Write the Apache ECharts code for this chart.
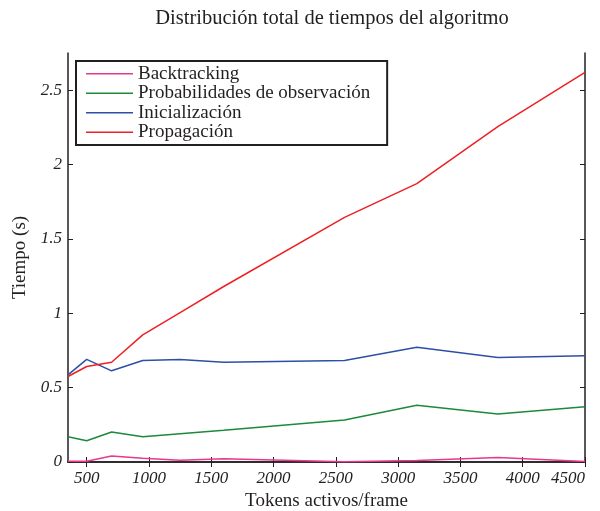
<!DOCTYPE html>
<html>
<head>
<meta charset="utf-8">
<script src="https://cdn.jsdelivr.net/npm/echarts@6/dist/echarts.min.js"></script>
<style>
  html, body { margin: 0; padding: 0; background: #fff; }
  #chart { width: 600px; height: 511px; }
</style>
</head>
<body>
<div id="chart"></div>
<script>
// Active tokens per frame
const tokens = [350, 500, 700, 950, 1250, 1600, 2570, 3150, 3800, 4500];

// Time (s) of each stage
const backtracking   = [0.005, 0.005, 0.04, 0.025, 0.012, 0.022, 0.002, 0.01, 0.03, 0.003];
const probabilidades = [0.17, 0.143, 0.202, 0.17, 0.19, 0.213, 0.283, 0.382, 0.323, 0.372];
const inicializacion = [0.586, 0.69, 0.613, 0.682, 0.69, 0.671, 0.682, 0.772, 0.702, 0.714];
const propagacion    = [0.575, 0.642, 0.671, 0.855, 1.005, 1.18, 1.645, 1.872, 2.255, 2.62];

const seriesNames = ['Backtracking', 'Probabilidades de observación', 'Inicialización', 'Propagación'];
const seriesColors = ['#e8388f', '#1b8a3c', '#2d4fa6', '#ee2024'];
const seriesValues = [backtracking, probabilidades, inicializacion, propagacion];

const xTicks = [500, 1000, 1500, 2000, 2500, 3000, 3500, 4000, 4500];
const yTicks = [0, 0.5, 1, 1.5, 2, 2.5];

const serif = '"Liberation Serif", "DejaVu Serif", serif';
const ink = '#231f20';

const pairs = vals => tokens.map((t, i) => [t, vals[i]]);

const xBase = {
  type: 'value', min: 350, max: 4500,
  axisLine: { show: true, lineStyle: { color: ink, width: 1.5 } },
  splitLine: { show: false },
  axisTick: { inside: true, length: 5, customValues: xTicks, lineStyle: { color: ink } }
};
const yBase = {
  type: 'value', min: 0, max: 2.75,
  axisLine: { show: true, lineStyle: { color: ink, width: 1.5 } },
  splitLine: { show: false },
  axisTick: { inside: true, length: 5, customValues: yTicks, lineStyle: { color: ink } }
};

const chart = echarts.init(document.getElementById('chart'), null, { renderer: 'canvas' });
chart.setOption({
  animation: false,
  backgroundColor: '#fff',
  title: {
    text: 'Distribución total de tiempos del algoritmo',
    left: 327, top: 3, textAlign: 'center',
    textStyle: { fontFamily: serif, fontSize: 20.5, fontWeight: 'normal', color: ink }
  },
  legend: {
    orient: 'vertical', left: 76, top: 61,
    padding: [3, 17, 3, 10],
    itemGap: 0,
    itemWidth: 47, itemHeight: 10,
    borderColor: ink, borderWidth: 2, backgroundColor: '#fff',
    textStyle: { fontFamily: serif, fontSize: 19, lineHeight: 19.5, color: ink },
    data: seriesNames.map(n => ({
      name: n,
      icon: 'path://M0,0 L47,0 L47,1.5 L0,1.5 Z'
    }))
  },
  grid: { left: 68, right: 15, top: 53, bottom: 49, containLabel: false, outerBoundsMode: 'none' },
  xAxis: [
    Object.assign({}, xBase, {
      position: 'bottom',
      name: 'Tokens activos/frame', nameLocation: 'middle', nameGap: 29,
      nameTextStyle: { fontFamily: serif, fontSize: 19, color: ink },
      axisLabel: {
        customValues: xTicks, margin: 8, formatter: v => String(v),
        alignMaxLabel: 'right',
        fontFamily: serif, fontStyle: 'italic', fontSize: 17, color: ink
      }
    }),
    Object.assign({}, xBase, { position: 'top', axisLabel: { show: false } })
  ],
  yAxis: [
    Object.assign({}, yBase, {
      position: 'left',
      name: 'Tiempo (s)', nameLocation: 'middle', nameGap: 31,
      nameTextStyle: { fontFamily: serif, fontSize: 19, color: ink },
      axisLabel: {
        customValues: yTicks, margin: 6, formatter: v => String(v),
        fontFamily: serif, fontStyle: 'italic', fontSize: 17, color: ink
      }
    }),
    Object.assign({}, yBase, { position: 'right', axisLabel: { show: false } })
  ],
  series: seriesNames.map((n, i) => ({
    name: n, type: 'line', xAxisIndex: 0, yAxisIndex: 0,
    data: pairs(seriesValues[i]),
    showSymbol: false, symbol: 'none',
    color: seriesColors[i],
    lineStyle: { color: seriesColors[i], width: 1.5 },
    z: 2 + i
  }))
});
</script>
</body>
</html>
